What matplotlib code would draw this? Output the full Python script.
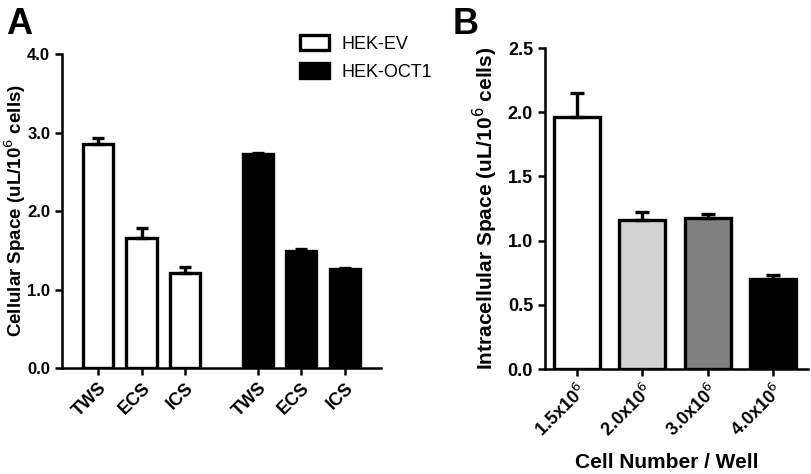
import matplotlib
matplotlib.use('Agg')
import matplotlib.pyplot as plt
import numpy as np
from matplotlib.patches import Patch

plt.rcParams['font.family'] = ['Liberation Sans', 'DejaVu Sans']

# Panel A data
a_labels = ['TWS', 'ECS', 'ICS', 'TWS', 'ECS', 'ICS']
a_pos = [0, 1, 2, 3.67, 4.67, 5.67]
ev_vals = [2.85, 1.65, 1.21]
ev_err = [0.08, 0.13, 0.08]
oct_vals = [2.73, 1.49, 1.26]
oct_err = [0.005, 0.02, 0.02]

# Panel B data
b_labels = ['1.5x10$^{6}$', '2.0x10$^{6}$', '3.0x10$^{6}$', '4.0x10$^{6}$']
b_vals = [1.96, 1.16, 1.18, 0.70]
b_err = [0.19, 0.06, 0.03, 0.03]
b_colors = ['white', '#d3d3d3', '#808080', 'black']

fig = plt.figure(figsize=(8.12, 4.74), dpi=100)
axA = fig.add_axes([0.0764, 0.2236, 0.3926, 0.6624])
axB = fig.add_axes([0.671, 0.2215, 0.324, 0.6772])

lw = 2.4
ekw = dict(elinewidth=lw, capthick=lw, ecolor='black')

axA.bar(a_pos[:3], ev_vals, width=0.7, color='white', edgecolor='black', linewidth=lw,
        yerr=[np.zeros(3), ev_err], capsize=4, error_kw=ekw, zorder=2)
axA.bar(a_pos[3:], oct_vals, width=0.7, color='black', edgecolor='black', linewidth=lw,
        yerr=[np.zeros(3), oct_err], capsize=4, error_kw=ekw, zorder=2)
axA.set_xlim(-0.83, 6.5)
axA.set_ylim(0, 4.0)
axA.set_yticks([0, 1, 2, 3, 4])
axA.set_yticklabels(['0.0', '1.0', '2.0', '3.0', '4.0'])
axA.set_xticks(a_pos)
axA.set_xticklabels(a_labels, rotation=45, ha='right', rotation_mode='anchor')
axA.set_ylabel('Cellular Space (uL/10$^{6}$ cells)', fontsize=13.5, fontweight='bold')
axA.yaxis.set_label_coords(-0.108, 0.5)
handles = [Patch(facecolor='white', edgecolor='black', linewidth=lw, label='HEK-EV'),
           Patch(facecolor='black', edgecolor='black', linewidth=lw, label='HEK-OCT1')]
axA.legend(handles=handles, loc='upper left', bbox_to_anchor=(0.746, 1.06), frameon=False,
           fontsize=13, handlelength=1.6, handleheight=0.9, labelspacing=0.55,
           borderpad=0, borderaxespad=0, handletextpad=0.7)

axB.bar(range(4), b_vals, width=0.7, color=b_colors, edgecolor='black', linewidth=lw,
        yerr=[np.zeros(4), b_err], capsize=5, error_kw=ekw, zorder=2)
axB.set_xlim(-0.49, 3.53)
axB.set_ylim(0, 2.5)
axB.set_yticks([0, 0.5, 1.0, 1.5, 2.0, 2.5])
axB.set_yticklabels(['0.0', '0.5', '1.0', '1.5', '2.0', '2.5'])
axB.set_xticks(range(4))
axB.set_xticklabels(b_labels, rotation=45, ha='right', rotation_mode='anchor')
axB.set_ylabel('Intracellular Space (uL/10$^{6}$ cells)', fontsize=15, fontweight='bold')
axB.yaxis.set_label_coords(-0.171, 0.5)
axB.set_xlabel('Cell Number / Well', fontsize=15, fontweight='bold')
axB.xaxis.set_label_coords(0.464, -0.262)

for ax in (axA, axB):
    for s in ('top', 'right'):
        ax.spines[s].set_visible(False)
    for s in ('left', 'bottom'):
        ax.spines[s].set_linewidth(1.8)
    ax.tick_params(width=1.8, length=5, labelsize=13)
    for lab in ax.get_xticklabels() + ax.get_yticklabels():
        lab.set_fontweight('bold')
axA.tick_params(axis='y', labelsize=12)

fig.text(0.008, 0.985, 'A', fontsize=26, fontweight='bold', va='top')
fig.text(0.557, 0.985, 'B', fontsize=26, fontweight='bold', va='top')

fig.savefig('out.png', dpi=100)
